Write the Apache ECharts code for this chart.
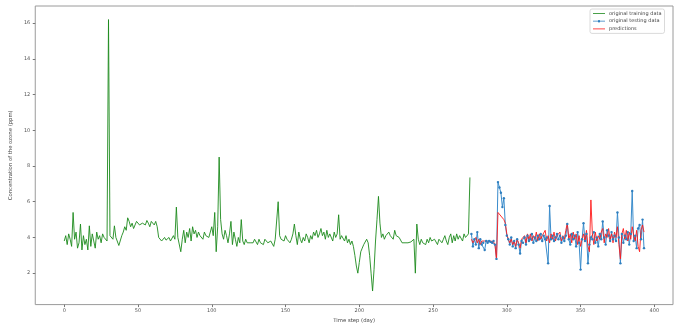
<!DOCTYPE html>
<html>
<head>
<meta charset="utf-8">
<script src="https://cdn.jsdelivr.net/npm/echarts@6/dist/echarts.min.js"></script>
<style>
html,body{margin:0;padding:0;background:#fff;}
#chart{width:678px;height:328px;}
</style>
</head>
<body>
<div id="chart"></div>
<script>
const trainStart = 0;
const testStart = 276;
const xTicks = [0, 50, 100, 150, 200, 250, 300, 350, 400];
const yTicks = [2, 4, 6, 8, 10, 12, 14, 16];
const trainValues = [
3.8,4.1,3.6,4.2,3.9,3.5,5.4,3.9,4.3,3.4,3.7,4.75,3.3,4.1,3.6,3.9,3.3,4.65,3.5,4.2,
3.8,3.4,4.3,3.9,4.1,3.7,4.2,4.0,4.1,3.8,16.2,4.1,4.0,3.9,4.65,4.0,3.9,3.55,3.6,4.1,
4.3,4.6,4.4,5.1,4.9,4.6,4.8,4.5,4.7,4.9,5.0,4.7,4.6,4.8,4.9,4.7,4.95,4.8,4.6,4.9,
5.0,4.7,4.9,4.6,4.0,3.9,3.8,3.9,4.0,3.85,3.9,4.0,3.8,3.9,4.1,3.9,5.7,4.0,3.9,3.2,
3.9,4.4,3.7,4.3,4.0,4.5,3.8,4.6,4.2,4.4,4.0,4.3,4.1,4.2,3.9,4.3,4.1,4.2,4.0,3.9,
4.6,4.1,5.4,3.2,4.6,8.5,5.0,4.2,3.9,4.4,4.1,3.7,4.2,4.9,3.6,4.3,3.9,3.5,4.0,3.7,
5.0,3.8,3.6,3.9,3.7,3.8,3.7,3.8,3.7,3.9,3.8,3.6,3.9,3.7,3.8,3.6,3.9,3.8,3.7,3.6,
3.8,3.7,3.5,3.9,3.8,6.0,4.1,3.9,4.0,3.8,4.1,3.9,4.0,3.7,3.9,4.2,4.75,4.1,3.6,4.3,
3.9,3.7,4.0,3.8,4.2,4.0,3.7,4.1,3.9,4.3,4.1,4.4,4.0,4.2,4.5,4.1,4.3,3.9,4.4,4.0,
4.2,4.1,3.8,4.3,4.0,4.2,5.27,3.9,4.1,4.0,3.8,4.1,3.7,3.9,3.6,3.8,3.5,3.0,2.4,2.0,
2.6,3.2,3.4,3.6,3.65,3.9,3.7,3.0,2.0,1.0,2.2,3.8,5.0,6.3,4.8,4.0,4.2,3.9,4.1,4.0,
4.3,4.1,4.2,3.9,4.4,4.1,4.2,4.0,3.9,3.7,3.8,3.7,3.8,3.7,3.8,3.75,3.8,3.9,2.0,4.75,
3.9,3.6,3.9,3.7,3.8,3.6,3.9,3.7,4.0,3.8,3.7,3.9,3.8,3.6,3.9,4.0,3.7,3.9,4.1,3.8,
3.6,4.0,4.2,3.7,4.1,3.8,4.2,3.9,4.1,4.0,3.8,4.2,4.0,4.1,4.2,7.36
];
const testValues = [
4.2,3.5,3.9,3.6,4.3,3.4,3.9,3.6,3.7,3.3,3.8,3.7,3.8,3.75,3.7,3.8,3.6,2.8,7.1,6.8,
6.5,5.7,6.2,4.7,4.1,3.9,3.6,4.0,3.5,3.8,3.4,3.9,3.6,3.1,3.8,3.7,4.0,3.6,4.1,3.8,
3.9,4.2,3.7,4.0,3.8,4.1,3.9,4.2,3.8,4.1,3.9,4.0,2.55,5.76,3.9,4.1,3.8,4.0,4.2,3.9,
4.1,3.7,4.0,3.8,4.1,4.75,3.9,3.6,4.2,3.9,4.1,3.5,4.3,3.7,2.2,3.9,4.8,3.8,4.2,2.55,
3.6,4.0,3.9,4.3,3.7,4.0,3.5,4.2,3.9,4.9,4.0,3.6,4.4,4.1,3.8,4.3,3.9,4.1,3.8,5.4,
4.0,2.55,4.2,3.7,4.1,3.9,4.3,3.6,4.2,6.6,3.8,4.1,3.4,4.5,4.7,3.9,5.0,3.4
];
const predValues = [
3.9,3.7,3.8,4.0,3.7,3.9,3.6,3.8,3.7,3.8,3.7,3.75,3.7,3.8,3.7,3.75,3.6,2.75,5.4,5.3,
5.2,5.3,5.0,4.8,4.2,3.9,3.7,3.9,3.6,3.8,3.5,3.9,3.7,3.4,3.9,3.8,4.1,3.7,4.2,3.9,
4.2,3.8,4.1,3.9,4.3,3.8,4.2,3.9,4.1,4.0,4.4,3.8,4.1,3.7,4.2,3.9,4.3,3.8,4.1,4.0,
4.3,3.8,4.1,3.9,4.4,4.8,3.9,4.2,3.7,4.3,3.9,4.2,3.6,4.1,3.5,3.9,4.2,3.8,4.4,3.5,
3.2,6.1,4.2,3.6,4.3,3.8,4.1,3.9,4.3,4.5,3.7,4.2,4.0,4.5,3.9,4.2,3.7,4.3,4.0,4.6,
3.6,2.8,4.2,4.5,3.9,4.4,3.8,4.3,3.9,4.6,4.1,3.8,4.4,3.5,3.2,4.4,4.7,4.3
];

const toPairs = (arr, start) => arr.map((v, i) => [start + i, v]);
const font = 'DejaVu Sans';
const lineIcon = 'path://M0,2.6 L12,2.6 L12,3.4 L0,3.4 Z';
const markerIcon = 'path://M0,2.6 L12,2.6 L12,3.4 L0,3.4 Z M7.2,3 A1.2,1.2 0 1 1 4.8,3 A1.2,1.2 0 1 1 7.2,3 Z';
const chart = echarts.init(document.getElementById('chart'), null, {renderer: 'canvas'});
chart.setOption({
  animation: false,
  backgroundColor: '#fff',
  grid: {left: 33, right: 5, top: 6, bottom: 16, show: true, borderColor: '#9a9a9a', borderWidth: 1, backgroundColor: 'transparent'},
  legend: {
    orient: 'vertical', left: 590, top: 9,
    padding: [2, 3, 2, 3],
    itemWidth: 12, itemHeight: 6, itemGap: 2.7,
    borderColor: '#d0d0d0', borderWidth: 0.8, borderRadius: 2,
    backgroundColor: '#fff',
    textStyle: {fontFamily: font, fontSize: 5, color: '#444', padding: [0, 0, 0, -1]},
    data: [
      {name: 'original training data', icon: lineIcon},
      {name: 'original testing data', icon: markerIcon},
      {name: 'predictions', icon: lineIcon}
    ]
  },
  xAxis: {
    type: 'value', min: -19.65, max: 412.65,
    name: 'Time step (day)', nameLocation: 'middle', nameGap: 11,
    nameTextStyle: {fontFamily: font, fontSize: 5.3, color: '#444'},
    axisLine: {show: false, onZero: false},
    splitLine: {show: false},
    axisTick: {show: true, length: 2.5, lineStyle: {color: '#777'}, customValues: xTicks},
    axisLabel: {fontFamily: font, fontSize: 5, color: '#555', margin: 3.5, customValues: xTicks}
  },
  yAxis: {
    type: 'value', min: 0.24, max: 16.96,
    name: 'Concentration of the ozone (ppm)', nameLocation: 'middle', nameGap: 17,
    nameTextStyle: {fontFamily: font, fontSize: 5.3, color: '#444'},
    axisLine: {show: false, onZero: false},
    splitLine: {show: false},
    axisTick: {show: true, length: 2.5, lineStyle: {color: '#777'}, customValues: yTicks},
    axisLabel: {fontFamily: font, fontSize: 5, color: '#555', margin: 5, customValues: yTicks}
  },
  series: [
    {name: 'original training data', type: 'line', data: toPairs(trainValues, trainStart),
     symbol: 'none', lineStyle: {color: '#1c8a1c', width: 0.9}, itemStyle: {color: '#1c8a1c'}},
    {name: 'original testing data', type: 'line', data: toPairs(testValues, testStart),
     symbol: 'circle', symbolSize: 2.4, showSymbol: true,
     lineStyle: {color: '#3a8ccc', width: 1}, itemStyle: {color: '#2f7fbf', borderWidth: 0}},
    {name: 'predictions', type: 'line', data: toPairs(predValues, testStart),
     symbol: 'none', lineStyle: {color: '#ff1a1a', width: 0.9}, itemStyle: {color: '#ff1a1a'}}
  ]
});
</script>
</body>
</html>
